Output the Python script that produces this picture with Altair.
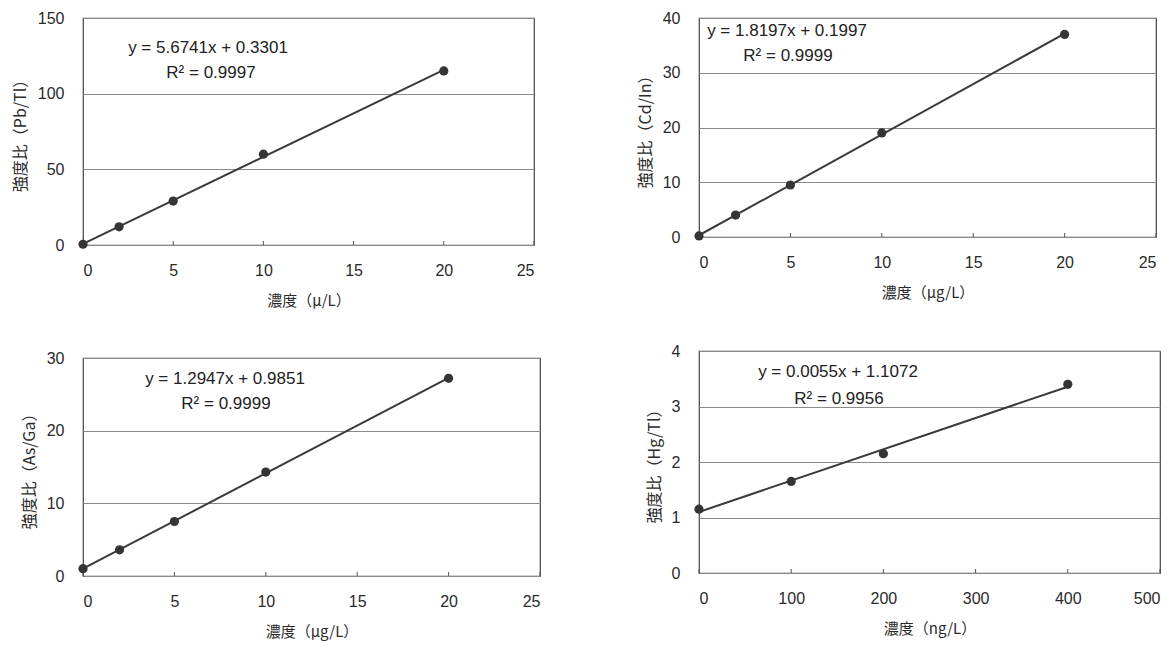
import altair as alt
import pandas as pd

# --- data ---
pb_x = [0, 2, 5, 10, 20]
pb_y = [0.5, 12, 29, 60, 115]
cd_x = [0, 2, 5, 10, 20]
cd_y = [0.2, 4.0, 9.5, 19, 37]
as_x = [0, 2, 5, 10, 20]
as_y = [1.0, 3.6, 7.5, 14.3, 27.2]
hg_x = [0, 100, 200, 400]
hg_y = [1.15, 1.65, 2.15, 3.4]

titles_y = ["強度比（Pb/Tl）", "強度比（Cd/In）", "強度比（As/Ga）", "強度比（Hg/Tl）"]
titles_x = ["濃度（μ/L）", "濃度（μg/L）", "濃度（μg/L）", "濃度（ng/L）"]
eqs = ["y = 5.6741x + 0.3301", "y = 1.8197x + 0.1997", "y = 1.2947x + 0.9851", "y = 0.0055x + 1.1072"]
r2s = ["R² = 0.9997", "R² = 0.9999", "R² = 0.9999", "R² = 0.9956"]

xticks_a = [0, 5, 10, 15, 20, 25]
xticks_b = [0, 100, 200, 300, 400, 500]
yticks_pb = [0, 50, 100, 150]
yticks_cd = [0, 10, 20, 30, 40]
yticks_as = [0, 10, 20, 30]
yticks_hg = [0, 1, 2, 3, 4]

NUM_FONT = "Liberation Sans"
CJK_FONT = "Noto Sans CJK JP"
INK = "#2a2a2a"


def panel(xs, ys, xticks, yticks, xt, yt, eq, r2, w, h, eqpos, r2pos):
    df = pd.DataFrame({"x": xs, "y": ys})
    base = alt.Chart(df)
    xenc = alt.X("x:Q",
                 scale=alt.Scale(domain=[xticks[0], xticks[-1]], nice=False, zero=False),
                 axis=alt.Axis(values=xticks, title=xt, grid=False, ticks=False,
                               labelPadding=17, titlePadding=15, domain=False,
                               format="d", titleFontSize=15))
    yenc = alt.Y("y:Q",
                 scale=alt.Scale(domain=[yticks[0], yticks[-1]], nice=False, zero=False),
                 axis=alt.Axis(values=yticks, title=yt, grid=True, ticks=False,
                               labelPadding=19, titlePadding=9, domain=False,
                               format="d", titleFontSize=16))
    line = base.transform_regression("x", "y").mark_line(
        color="#3a3a3a", strokeWidth=2).encode(x=xenc, y=yenc)
    pts = base.mark_circle(size=85, color="#353535", opacity=1).encode(x="x:Q", y="y:Q")
    tick_df = pd.DataFrame({"x": xticks})
    inner_ticks = alt.Chart(tick_df).mark_rule(color="#555", strokeWidth=1).encode(
        x="x:Q", y=alt.value(h), y2=alt.value(h - 4))
    t1 = alt.Chart(pd.DataFrame({"t": [eq]})).mark_text(
        font=NUM_FONT, fontSize=17, color="#222", align="center", baseline="middle"
    ).encode(x=alt.value(eqpos[0]), y=alt.value(eqpos[1]), text="t:N")
    t2 = alt.Chart(pd.DataFrame({"t": [r2]})).mark_text(
        font=NUM_FONT, fontSize=17, color="#222", align="center", baseline="middle"
    ).encode(x=alt.value(r2pos[0]), y=alt.value(r2pos[1]), text="t:N")
    return alt.layer(line, inner_ticks, pts, t1, t2).properties(width=w, height=h)


p1 = panel(pb_x, pb_y, xticks_a, yticks_pb, titles_x[0], titles_y[0], eqs[0], r2s[0],
           451, 227, (125, 30), (128, 55))
p2 = panel(cd_x, cd_y, xticks_a, yticks_cd, titles_x[1], titles_y[1], eqs[1], r2s[1],
           457, 219, (88, 13), (89, 38))
p3 = panel(as_x, as_y, xticks_a, yticks_as, titles_x[2], titles_y[2], eqs[2], r2s[2],
           457, 218, (142, 21), (143, 46))
p4 = panel(hg_x, hg_y, xticks_b, yticks_hg, titles_x[3], titles_y[3], eqs[3], r2s[3],
           461, 222, (139, 21), (140, 48))

chart = alt.hconcat(
    alt.vconcat(p1, p3, spacing=40),
    alt.vconcat(p2, p4, spacing=41),
    spacing=94,
).properties(
    padding={"left": 3, "top": 1, "right": 0, "bottom": 2},
    background="white",
).configure_view(
    stroke="#444444", strokeWidth=1.2
).configure_axis(
    labelFont=NUM_FONT, labelFontSize=16, labelColor=INK,
    titleFont=CJK_FONT, titleFontWeight="normal", titleColor=INK,
    gridColor="#8a8a8a", gridWidth=1, gridOpacity=1,
)

chart.save("out.html", embed_options={"renderer": "svg", "actions": False})
